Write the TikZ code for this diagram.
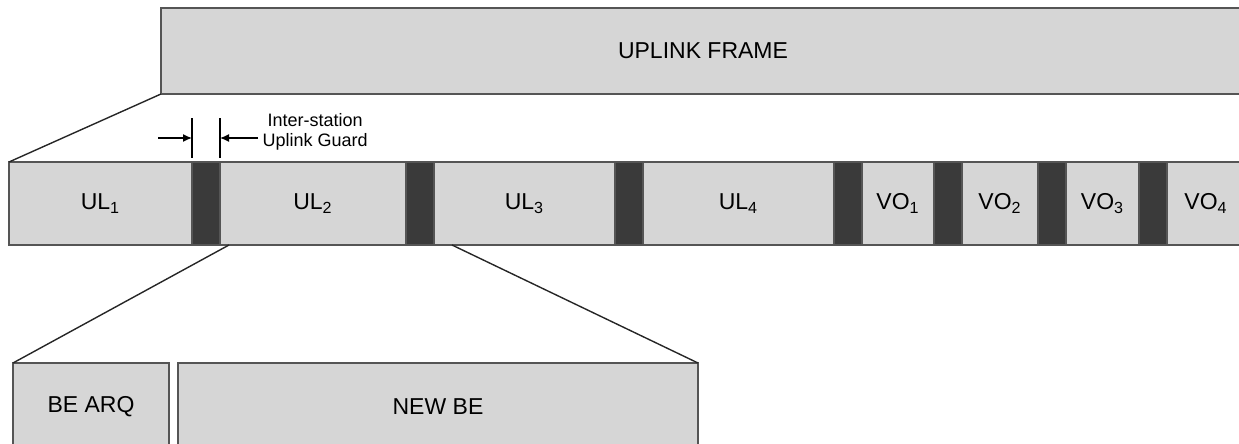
\documentclass[tikz,border=0pt]{standalone}
\usepackage{fontspec}
\setmainfont{Liberation Sans}
\usetikzlibrary{positioning,arrows.meta}
\definecolor{slotgray}{HTML}{D6D6D6}
\definecolor{guardgray}{HTML}{3A3A3A}
\definecolor{edgegray}{HTML}{555555}
\begin{document}
\begin{tikzpicture}[x=0.5pt, y=-0.5pt, line width=0.6pt,
        slot/.style = {draw=edgegray, fill=slotgray, minimum height=41.5pt, inner sep=0pt, outer sep=0pt,
            anchor=north west, font=\fontsize{11.5}{13}\selectfont},
        guard/.style = {slot, fill=guardgray, minimum width=14pt},
        zoomline/.style = {draw=black!85, line width=0.7pt},
        tick/.style = {draw=black, line width=0.7pt}]
    \useasboundingbox (0,0) rectangle (1239,444);
    \clip (0,0) rectangle (1239,444);
    % uplink frame
    \node[slot, minimum width=542pt, minimum height=43pt] (frame) at (161,8) {UPLINK FRAME};
    % slots of the frame
    \node[slot, minimum width=91.5pt] (ul1) at (9,162) {UL\textsubscript{1}};
    \node[guard, right=0pt of ul1] (g1) {};
    \node[slot, minimum width=93pt, right=0pt of g1] (ul2) {UL\textsubscript{2}};
    \node[guard, right=0pt of ul2] (g2) {};
    \node[slot, minimum width=90.5pt, right=0pt of g2] (ul3) {UL\textsubscript{3}};
    \node[guard, right=0pt of ul3] (g3) {};
    \node[slot, minimum width=95.5pt, right=0pt of g3] (ul4) {UL\textsubscript{4}};
    \node[guard, right=0pt of ul4] (g4) {};
    \node[slot, minimum width=36pt, right=0pt of g4] (vo1) {VO\textsubscript{1}};
    \node[guard, right=0pt of vo1] (g5) {};
    \node[slot, minimum width=38pt, right=0pt of g5] (vo2) {VO\textsubscript{2}};
    \node[guard, right=0pt of vo2] (g6) {};
    \node[slot, minimum width=36.5pt, right=0pt of g6] (vo3) {VO\textsubscript{3}};
    \node[guard, right=0pt of vo3] (g7) {};
    \node[slot, minimum width=39pt, right=0pt of g7] (vo4) {VO\textsubscript{4}};
    % best effort part
    \node[slot, minimum width=78pt, minimum height=43.5pt] (bearq) at (13,363) {BE ARQ};
    \node[slot, minimum width=260pt, minimum height=43.5pt, right=4.5pt of bearq] (newbe) {NEW BE};
    % zoom lines
    \draw[zoomline] (frame.south west) -- (ul1.north west);
    \coordinate (zl) at (229,245);
    \coordinate (zr) at (452,245);
    \draw[zoomline] (zl) -- (bearq.north west);
    \draw[zoomline] (zr) -- (newbe.north east);
    % guard dimension
    \draw[tick] ([yshift=2pt]g1.north west) -- ([yshift=22pt]g1.north west);
    \draw[tick] ([yshift=2pt]g1.north east) -- ([yshift=22pt]g1.north east);
    \coordinate (al) at (158,138);
    \coordinate (ar) at (258,138);
    \draw[tick, -{Latex[length=4.5pt,width=4pt]}] (al) -- ([yshift=12pt]g1.north west);
    \draw[tick, -{Latex[length=4.5pt,width=4pt]}] (ar) -- ([yshift=12pt]g1.north east);
    \node[anchor=west, inner sep=0pt, align=center, font=\fontsize{9}{10}\selectfont] (glabel)
        at (262,132) {Inter-station\\Uplink Guard};
\end{tikzpicture}
\end{document}
